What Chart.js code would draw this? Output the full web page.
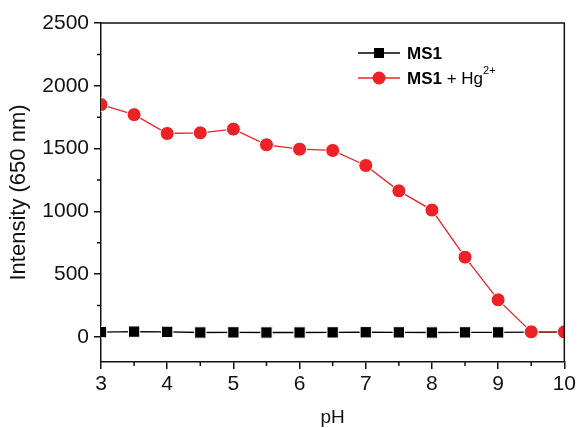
<!DOCTYPE html>
<html>
<head>
<meta charset="utf-8">
<script src="https://cdn.jsdelivr.net/npm/chart.js@4"></script>
<style>
  body { margin: 0; background: #fff; }
  #wrap { width: 579px; height: 428px; }
</style>
</head>
<body>
<div id="wrap"><canvas id="c" width="579" height="428"></canvas></div>
<script>
// values
const ph = [3, 3.5, 4, 4.5, 5, 5.5, 6, 6.5, 7, 7.5, 8, 8.5, 9, 9.5, 10];
const ms1 = [38, 42, 40, 35, 36, 35, 35, 36, 37, 36, 35, 36, 36, 38, 38];
const ms1Hg = [1850, 1770, 1620, 1625, 1655, 1530, 1495, 1485, 1365, 1163, 1010, 635, 295, 40, 40];
const xTicks = [3, 4, 5, 6, 7, 8, 9, 10];
const yTicks = [0, 500, 1000, 1500, 2000, 2500];
const xMinor = [3.5, 4.5, 5.5, 6.5, 7.5, 8.5, 9.5];
const yMinor = [250, 750, 1250, 1750, 2250];

const FONT = 'Liberation Sans, Arial, sans-serif';
const RED = '#ec2227';

const toXY = vals => vals.map((v, i) => ({ x: ph[i], y: v }));

// box frame, minor ticks and the in-plot legend
const extras = {
    id: 'extras',
    afterDraw(chart) {
        const ctx = chart.ctx;
        const a = chart.chartArea;
        const xs = chart.scales.x, ys = chart.scales.y;
        ctx.save();
        ctx.strokeStyle = '#111';
        ctx.lineWidth = 1.5;
        ctx.beginPath();
        ctx.moveTo(a.left, a.top);
        ctx.lineTo(a.right, a.top);
        ctx.lineTo(a.right, a.bottom);
        xMinor.forEach(v => {
            const px = xs.getPixelForValue(v);
            ctx.moveTo(px, a.bottom);
            ctx.lineTo(px, a.bottom + 4);
        });
        yMinor.forEach(v => {
            const py = ys.getPixelForValue(v);
            ctx.moveTo(a.left, py);
            ctx.lineTo(a.left - 4, py);
        });
        ctx.stroke();

        // legend
        const items = [
            { ds: chart.data.datasets[1], y: 53 },
            { ds: chart.data.datasets[0], y: 78 }
        ];
        items.forEach(it => {
            ctx.strokeStyle = it.ds.borderColor;
            ctx.lineWidth = 1.3;
            ctx.beginPath();
            ctx.moveTo(358, it.y);
            ctx.lineTo(400, it.y);
            ctx.stroke();
            ctx.fillStyle = it.ds.pointBackgroundColor;
            ctx.beginPath();
            if (it.ds.pointStyle === 'rect') {
                ctx.rect(374, it.y - 5, 10, 10);
            } else {
                ctx.arc(379, it.y, 6.5, 0, Math.PI * 2);
            }
            ctx.fill();
        });
        ctx.fillStyle = '#000';
        ctx.textBaseline = 'middle';
        ctx.textAlign = 'left';
        ctx.font = 'bold 17px ' + FONT;
        ctx.fillText('MS1', 407, 54);
        ctx.fillText('MS1', 407, 79);
        let x = 407 + ctx.measureText('MS1').width;
        ctx.font = '17px ' + FONT;
        ctx.fillText(' + Hg', x, 79);
        x += ctx.measureText(' + Hg').width;
        ctx.font = '11px ' + FONT;
        ctx.fillText('2+', x, 71);
        ctx.restore();
    }
};

new Chart(document.getElementById('c'), {
    type: 'line',
    data: {
        datasets: [{
            label: 'MS1 + Hg2+',
            data: toXY(ms1Hg),
            borderColor: RED,
            borderWidth: 1.3,
            pointStyle: 'circle',
            pointRadius: 7,
            pointBackgroundColor: RED,
            pointBorderColor: '#fff',
            pointBorderWidth: 1,
            order: 0
        }, {
            label: 'MS1',
            data: toXY(ms1),
            borderColor: '#000',
            borderWidth: 1.3,
            pointStyle: 'rect',
            pointRadius: 8,
            pointBackgroundColor: '#000',
            pointBorderColor: '#fff',
            pointBorderWidth: 1,
            order: 1
        }]
    },
    options: {
        responsive: false,
        animation: false,
        layout: { padding: { top: 23, right: 12, left: 0, bottom: 0 } },
        plugins: {
            legend: { display: false },
            tooltip: { enabled: false }
        },
        scales: {
            x: {
                type: 'linear',
                min: 3,
                max: 10,
                afterBuildTicks: s => { s.ticks = xTicks.map(v => ({ value: v })); },
                afterFit: s => { s.height = 66; },
                grid: { drawOnChartArea: false, tickLength: 7, color: '#111', lineWidth: 1.5 },
                border: { display: true, color: '#111', width: 1.5 },
                ticks: { color: '#111', padding: 3, font: { family: FONT, size: 21 }, callback: v => String(v) },
                title: { display: true, text: 'pH', color: '#111', padding: { top: 12, bottom: -1 }, font: { family: FONT, size: 19 } }
            },
            y: {
                min: -200,
                max: 2500,
                afterBuildTicks: s => { s.ticks = yTicks.map(v => ({ value: v })); },
                afterFit: s => { s.width = 101; },
                grid: { drawOnChartArea: false, tickLength: 7, color: '#111', lineWidth: 1.5 },
                border: { display: true, color: '#111', width: 1.5 },
                ticks: { color: '#111', padding: 5, font: { family: FONT, size: 21 }, callback: v => String(v) },
                title: { display: true, text: 'Intensity (650 nm)', color: '#111', padding: { top: 6, bottom: 0 }, font: { family: FONT, size: 22 } }
            }
        }
    },
    plugins: [extras]
});
</script>
</body>
</html>
